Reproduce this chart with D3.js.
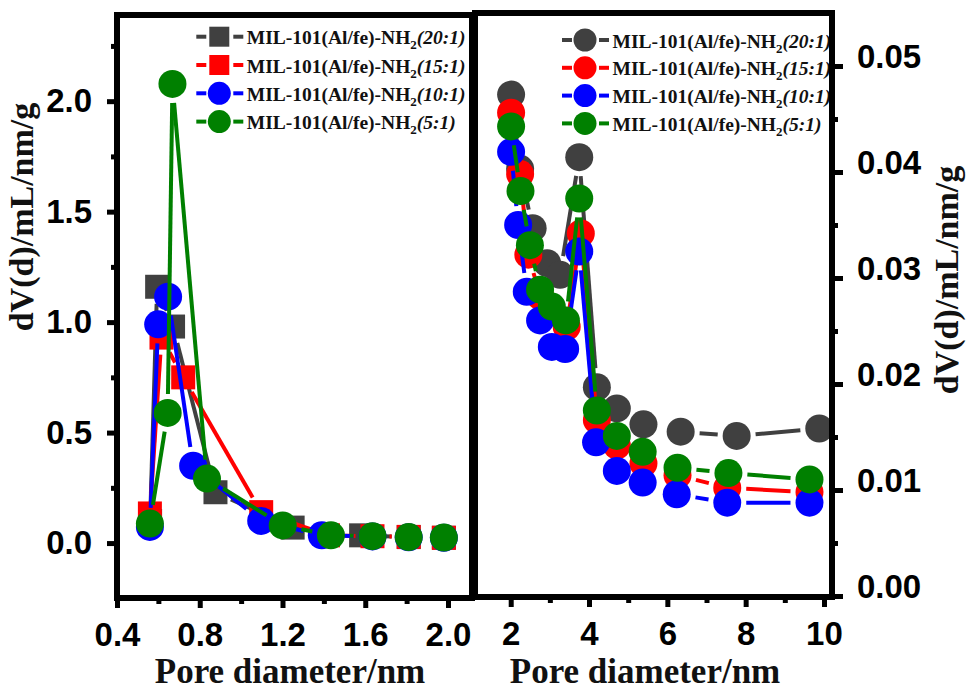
<!DOCTYPE html>
<html><head><meta charset="utf-8">
<script src="https://cdn.jsdelivr.net/npm/d3@7"></script>
<style>body{margin:0;background:#fff}svg{display:block}</style>
</head><body>
<svg id="chart" width="968" height="691"></svg>
<script>
// ---------- data ----------
const seriesBase = "MIL-101(Al/fe)-NH";
const seriesRatios = ["(20:1)", "(15:1)", "(10:1)", "(5:1)"];

// left panel (micropores, 0.4–2.1 nm)
const micro20X = [0.56, 0.594, 0.671, 0.876, 1.249, 1.58, 1.81, 1.98];
const micro20Y = [0.10, 1.16, 0.98, 0.23, 0.07, 0.035, 0.027, 0.024];
const micro15X = [0.559, 0.615, 0.72, 1.097, 1.42, 1.635, 1.81, 1.98];
const micro15Y = [0.134, 0.93, 0.75, 0.14, 0.035, 0.031, 0.028, 0.024];
const micro10X = [0.559, 0.599, 0.647, 0.768, 1.097, 1.39, 1.635, 1.81, 1.98];
const micro10Y = [0.073, 0.99, 1.115, 0.35, 0.10, 0.035, 0.030, 0.026, 0.024];
const micro5X  = [0.559, 0.645, 0.668, 0.835, 1.201, 1.434, 1.635, 1.81, 1.98];
const micro5Y  = [0.088, 0.589, 2.078, 0.292, 0.08, 0.035, 0.031, 0.027, 0.025];

// right panel (mesopores, 2–10 nm)
const meso20X = [2.01, 2.24, 2.56, 2.93, 3.26, 3.75, 4.2, 4.71, 5.39, 6.34, 7.77, 9.88];
const meso20Y = [0.0473, 0.0403, 0.0347, 0.0314, 0.0303, 0.0414, 0.0197, 0.0177, 0.0162, 0.0155, 0.0151, 0.0158];
const meso15X = [2.01, 2.24, 2.45, 2.75, 3.05, 3.43, 3.79, 4.2, 4.71, 5.39, 6.26, 7.53, 9.63];
const meso15Y = [0.0456, 0.0398, 0.0322, 0.0283, 0.0268, 0.0254, 0.0342, 0.0166, 0.0142, 0.0125, 0.0114, 0.0102, 0.0098];
const meso10X = [2.01, 2.19, 2.41, 2.75, 3.05, 3.39, 3.75, 4.18, 4.71, 5.37, 6.24, 7.53, 9.63];
const meso10Y = [0.0419, 0.035, 0.0287, 0.026, 0.0235, 0.0233, 0.0325, 0.0145, 0.0118, 0.0107, 0.0096, 0.0088, 0.0088];
const meso5X  = [2.01, 2.25, 2.49, 2.75, 3.05, 3.41, 3.75, 4.2, 4.71, 5.37, 6.26, 7.56, 9.63];
const meso5Y  = [0.0443, 0.0382, 0.0331, 0.0289, 0.0273, 0.026, 0.0375, 0.0175, 0.0151, 0.0136, 0.0121, 0.0116, 0.011];

// ticks
const leftXTicks = [0.4, 0.8, 1.2, 1.6, 2.0];
const leftXMinor = [0.6, 1.0, 1.4, 1.8];
const leftYTicks = [0.0, 0.5, 1.0, 1.5, 2.0];
const leftYMinor = [0.25, 0.75, 1.25, 1.75, 2.25];
const rightXTicks = [2, 4, 6, 8, 10];
const rightXMinor = [3, 5, 7, 9];
const rightYTicks = [0.00, 0.01, 0.02, 0.03, 0.04, 0.05];
const rightYMinor = [0.005, 0.015, 0.025, 0.035, 0.045];
const xTitle = "Pore diameter/nm";
const yTitle = "dV(d)/mL/nm/g";

// ---------- styles ----------
const colors = ["#404040", "#ff0000", "#0000ff", "#008000"];
const SERIF = "'Liberation Serif','Times New Roman',serif";
const SANS = "'Liberation Sans',Arial,sans-serif";

const svg = d3.select("#chart");
svg.append("rect").attr("width", 968).attr("height", 691).attr("fill", "#fff");

const xL = d3.scaleLinear().domain([0.4, 2.116]).range([117, 472]);
const yL = d3.scaleLinear().domain([-0.25, 2.39]).range([598.3, 15]);
const xR = d3.scaleLinear().domain([1.088, 10.205]).range([475, 832]);
const yR = d3.scaleLinear().domain([0, 0.055]).range([596, 13]);

function drawSeries(g, xs, ys, sx, sy, color, shape, size) {
  const pts = xs.map((x, i) => [sx(x), sy(ys[i])]);
  const gap = size / 2 + 5;
  const line = d3.line();
  for (let i = 0; i < pts.length - 1; i++) {
    const [x1, y1] = pts[i], [x2, y2] = pts[i + 1];
    const dx = x2 - x1, dy = y2 - y1, d = Math.hypot(dx, dy);
    if (d > 2 * gap + 2) {
      const ux = dx / d, uy = dy / d;
      g.append("path")
        .attr("d", line([[x1 + ux * gap, y1 + uy * gap], [x2 - ux * gap, y2 - uy * gap]]))
        .attr("stroke", color).attr("stroke-width", 4).attr("fill", "none");
    }
  }
  const sym = shape === "square"
    ? d3.symbol(d3.symbolSquare, size * size)
    : d3.symbol(d3.symbolCircle, Math.PI * (size / 2) * (size / 2));
  g.selectAll(null).data(pts).join("path")
    .attr("transform", p => `translate(${p[0]},${p[1]})`)
    .attr("d", sym()).attr("fill", color);
}

// left panel series
const gL = svg.append("g");
const leftData = [[micro20X, micro20Y, "square"], [micro15X, micro15Y, "square"],
                  [micro10X, micro10Y, "circle"], [micro5X, micro5Y, "circle"]];
leftData.forEach((s, i) => drawSeries(gL.append("g"), s[0], s[1], xL, yL, colors[i], s[2], s[2] === "square" ? 24 : 28));

// right panel series
const gR = svg.append("g");
const rightData = [[meso20X, meso20Y], [meso15X, meso15Y], [meso10X, meso10Y], [meso5X, meso5Y]];
rightData.forEach((s, i) => drawSeries(gR.append("g"), s[0], s[1], xR, yR, colors[i], "circle", 28));

// legends
function drawLegend(cx, y0, dy, shapes) {
  const g = svg.append("g");
  seriesRatios.forEach((r, i) => {
    const y = y0 + i * dy;
    const c = colors[i];
    g.append("line").attr("x1", cx - 23).attr("x2", cx - 13).attr("y1", y).attr("y2", y).attr("stroke", c).attr("stroke-width", 4);
    g.append("line").attr("x1", cx + 14).attr("x2", cx + 24).attr("y1", y).attr("y2", y).attr("stroke", c).attr("stroke-width", 4);
    const sym = shapes[i] === "square" ? d3.symbol(d3.symbolSquare, 20 * 20) : d3.symbol(d3.symbolCircle, Math.PI * 11.5 * 11.5);
    g.append("path").attr("transform", `translate(${cx},${y})`).attr("d", sym()).attr("fill", c);
    const t = g.append("text").attr("x", cx + 27.5).attr("y", y + 7.5)
      .attr("font-family", SERIF).attr("font-weight", "bold").attr("font-size", 19.5).attr("fill", "#111");
    t.append("tspan").text(seriesBase);
    t.append("tspan").attr("font-size", 13).attr("dy", 5).text("2");
    t.append("tspan").attr("dy", -5).attr("font-style", "italic").text(r);
  });
}
drawLegend(219.3, 36.7, 28.3, ["square", "square", "circle", "circle"]);
drawLegend(585, 40, 27.8, ["circle", "circle", "circle", "circle"]);

// axes
function styleAxis(g) {
  g.select(".domain").remove();
  g.selectAll(".tick line").attr("stroke", "#000").attr("stroke-width", 5);
  g.selectAll(".tick text").attr("font-family", SANS).attr("font-weight", "bold").attr("font-size", 33).attr("fill", "#000");
}
// left bottom
svg.append("g").attr("transform", "translate(0,598)")
  .call(d3.axisBottom(xL).tickValues(leftXTicks).tickFormat(d3.format(".1f")).tickSize(10).tickPadding(15)).call(styleAxis);
svg.append("g").attr("transform", "translate(0,598)")
  .call(d3.axisBottom(xL).tickValues(leftXMinor).tickFormat("").tickSize(6)).call(styleAxis);
// left y
svg.append("g").attr("transform", "translate(117,0)")
  .call(d3.axisLeft(yL).tickValues(leftYTicks).tickFormat(d3.format(".1f")).tickSize(10).tickPadding(15)).call(styleAxis);
svg.append("g").attr("transform", "translate(117,0)")
  .call(d3.axisLeft(yL).tickValues(leftYMinor).tickFormat("").tickSize(6)).call(styleAxis);
// right bottom
svg.append("g").attr("transform", "translate(0,597)")
  .call(d3.axisBottom(xR).tickValues(rightXTicks).tickFormat(d3.format("d")).tickSize(10).tickPadding(15)).call(styleAxis);
svg.append("g").attr("transform", "translate(0,597)")
  .call(d3.axisBottom(xR).tickValues(rightXMinor).tickFormat("").tickSize(6)).call(styleAxis);
// right y
const ry = svg.append("g").attr("transform", "translate(832,0)")
  .call(d3.axisRight(yR).tickValues(rightYTicks).tickFormat(d3.format(".2f")).tickSize(11).tickPadding(14)).call(styleAxis);
ry.selectAll(".tick text").attr("y", -9);
svg.append("g").attr("transform", "translate(832,0)")
  .call(d3.axisRight(yR).tickValues(rightYMinor).tickFormat("").tickSize(6)).call(styleAxis);

// frames
svg.append("rect").attr("x", 117).attr("y", 15).attr("width", 355).attr("height", 583)
  .attr("fill", "none").attr("stroke", "#000").attr("stroke-width", 6);
svg.append("rect").attr("x", 475).attr("y", 13).attr("width", 357).attr("height", 584)
  .attr("fill", "none").attr("stroke", "#000").attr("stroke-width", 6);

// titles
function title(x, y, rot, txt, size) {
  svg.append("text").attr("transform", `translate(${x},${y}) rotate(${rot})`)
    .attr("text-anchor", "middle").attr("font-family", SERIF).attr("font-weight", "bold")
    .attr("font-size", size).attr("fill", "#111").text(txt);
}
title(290, 683, 0, xTitle, 35);
title(645, 683, 0, xTitle, 35);
title(33, 217, -90, yTitle, 34);
title(958, 280, -90, yTitle, 34);
</script>
</body></html>
